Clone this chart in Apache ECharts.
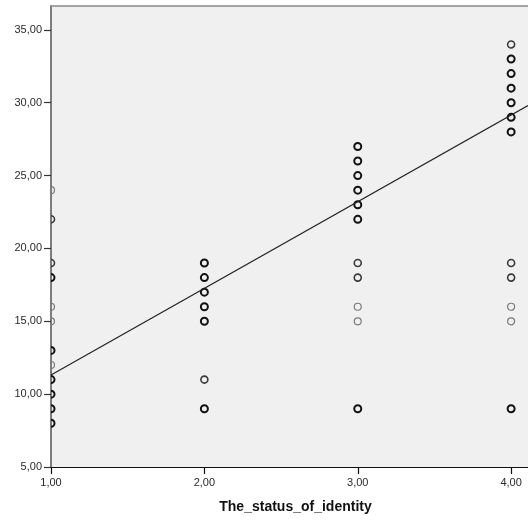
<!DOCTYPE html>
<html>
<head>
<meta charset="utf-8">
<script src="https://cdn.jsdelivr.net/npm/echarts@6/dist/echarts.min.js"></script>
<style>html,body{margin:0;padding:0;background:#fff;overflow:hidden;}#c{width:528px;height:521px;}</style>
</head>
<body>
<div id="c"></div>
<script>
// x categories (status of identity)
var statusValues = [1, 2, 3, 4];
// observed y values at each status, with overlap counts (darker = more cases)
var yAt1 = [24, 22, 19, 18, 16, 15, 13, 12, 11, 10, 9, 8];
var nAt1 = [1, 2, 2, 3, 1, 1, 3, 1, 3, 3, 3, 3];
var yAt2 = [19, 18, 17, 16, 15, 11, 9];
var nAt2 = [3, 3, 3, 3, 3, 2, 3];
var yAt3 = [27, 26, 25, 24, 23, 22, 19, 18, 16, 15, 9];
var nAt3 = [3, 3, 3, 3, 3, 3, 2, 2, 1, 1, 3];
var yAt4 = [34, 33, 32, 31, 30, 29, 28, 19, 18, 16, 15, 9];
var nAt4 = [2, 3, 3, 3, 3, 3, 3, 2, 2, 1, 1, 3];
// fit line end values
var fitX = [1, 4.11];
var fitY = [11.31, 29.81];
// tick labels
var xTicks = [1, 2, 3, 4];
var yTicks = [5, 10, 15, 20, 25, 30, 35];

var groupsY = [yAt1, yAt2, yAt3, yAt4];
var groupsN = [nAt1, nAt2, nAt3, nAt4];
var points = [];
statusValues.forEach(function (x, gi) {
  groupsY[gi].forEach(function (y, i) { points.push([x, y, groupsN[gi][i]]); });
});

function fmt(v) { return Number(v).toFixed(2).replace('.', ','); }

var chart = echarts.init(document.getElementById('c'));
var lbl = { fontFamily: 'Liberation Sans, Arial, sans-serif', fontSize: 11, color: '#2a2a2a' };
chart.setOption({
  animation: false,
  backgroundColor: '#ffffff',
  grid: { left: 51, top: 6, right: -2, bottom: 54, show: true, backgroundColor: '#f0f0f0', borderWidth: 0, borderColor: 'transparent' },
  xAxis: [{
    type: 'value', min: 1, max: 4.11, interval: 1,
    splitLine: { show: false },
    axisLine: { show: true, onZero: false, lineStyle: { color: '#111', width: 1.2 } },
    axisTick: { show: true, length: 7, customValues: xTicks, lineStyle: { color: '#111', width: 1.2 } },
    axisLabel: Object.assign({ margin: 10, customValues: xTicks, formatter: fmt }, lbl),
    name: 'The_status_of_identity', nameLocation: 'middle', nameGap: 33,
    nameTextStyle: { fontFamily: 'Liberation Sans, Arial, sans-serif', fontSize: 14, fontWeight: 'bold', color: '#111', padding: [0, 0, 0, 12] }
  }, {
    type: 'value', position: 'top', min: 1, max: 4.11,
    splitLine: { show: false }, axisTick: { show: false }, axisLabel: { show: false },
    axisLine: { show: true, lineStyle: { color: '#888', width: 1.5 } }
  }],
  yAxis: [{
    type: 'value', min: 5, max: 36.64, interval: 5,
    splitLine: { show: false },
    axisLine: { show: true, onZero: false, lineStyle: { color: '#555', width: 1.5 } },
    axisTick: { show: true, length: 7, customValues: yTicks, lineStyle: { color: '#333', width: 1.2 } },
    axisLabel: Object.assign({ margin: 9, customValues: yTicks, formatter: fmt }, lbl)
  }],
  series: [{
    type: 'custom',
    clip: true,
    data: points,
    renderItem: function (params, api) {
      var p = api.coord([api.value(0), api.value(1)]);
      var n = api.value(2);
      var stroke = n >= 3 ? '#111' : (n === 2 ? '#3a3a3a' : '#7a7a7a');
      var lw = n >= 3 ? 2 : (n === 2 ? 1.6 : 1.2);
      return { type: 'circle', shape: { cx: p[0], cy: p[1], r: 3.5 }, style: { fill: 'none', stroke: stroke, lineWidth: lw } };
    },
    z: 3
  }, {
    type: 'line',
    data: fitX.map(function (x, i) { return [x, fitY[i]]; }),
    symbol: 'none',
    lineStyle: { color: '#222', width: 1.2 },
    z: 4
  }]
});
</script>
</body>
</html>
